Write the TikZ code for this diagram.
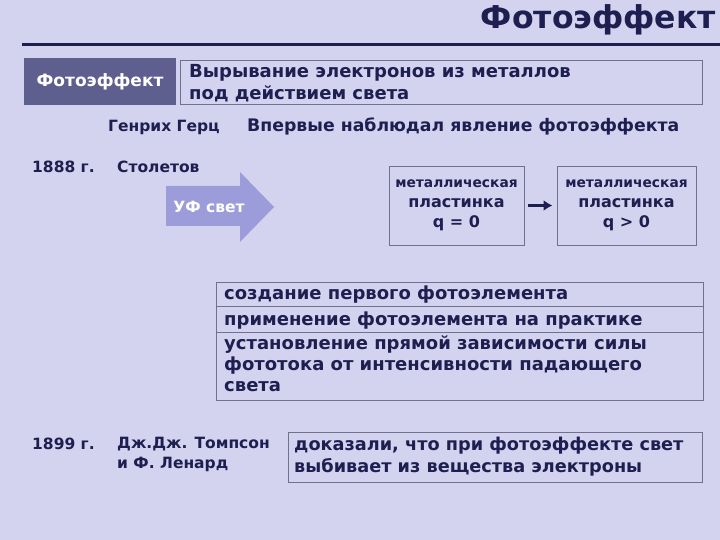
\documentclass[tikz,border=0pt]{standalone}
\usepackage{fontspec}
\usetikzlibrary{arrows.meta}
\setmainfont{DejaVu Sans}
\begin{document}
\begin{tikzpicture}[x=1pt,y=-1pt,
  txt/.style={text=tc,font=\bfseries\fontsize{15.5}{18}\selectfont,inner sep=0pt},
  frame/.style={draw=bc,line width=0.8pt}]
\definecolor{bg}{HTML}{D3D3EF}
\definecolor{tc}{HTML}{1E1E50}
\definecolor{bc}{HTML}{707090}
\definecolor{dk}{HTML}{5F5F8F}
\definecolor{ar}{HTML}{9C9CDA}
\fill[bg] (0,0) rectangle (720,540);
\useasboundingbox (0,0) rectangle (720,540);
\node[anchor=base east,text=tc,font=\bfseries\fontsize{31.5}{32}\selectfont,inner sep=0pt] (title) at (716,29) {Фотоэффект};
\coordinate (l1) at (22,45); \coordinate (l2) at (720,45);
\draw[tc,line width=3pt] (l1) -- (l2);
\node[fill=dk,minimum width=152,minimum height=47,inner sep=0pt,text=white,font=\bfseries\fontsize{17}{20}\selectfont] (fe) at (100,81.5) {Фотоэффект};
\node[frame,minimum width=522,minimum height=44,inner sep=0pt] (def) at (441,82) {};
\node[txt,anchor=west,align=left,font=\bfseries\fontsize{18}{21.5}\selectfont] (deft) at (189,83) {Вырывание электронов из металлов\\под действием света};
\node[txt,anchor=base west] (gerz) at (108,132) {Генрих Герц};
\node[txt,anchor=base west,font=\bfseries\fontsize{17.3}{20}\selectfont] (first) at (247,132) {Впервые наблюдал явление фотоэффекта};
\node[txt,anchor=base west] (y1) at (32,173) {1888 г.};
\node[txt,anchor=base west] (stol) at (117,173) {Столетов};
\fill[ar] (166,186) -- (240,186) -- (240,172) -- (274,207) -- (240,242) -- (240,226) -- (166,226) -- cycle;
\node[txt,text=white] (uf) at (209,207) {УФ свет};
\node[frame,minimum width=135,minimum height=79,inner sep=0pt,align=center,txt,draw=bc,font=\bfseries\fontsize{16}{20}\selectfont] (p1) at (456.5,205.5) {{\fontsize{13.8}{15}\selectfont металлическая}\\пластинка\\q = 0};
\node[frame,minimum width=139,minimum height=79,inner sep=0pt,align=center,txt,draw=bc,font=\bfseries\fontsize{16}{20}\selectfont] (p2) at (626.5,205.5) {{\fontsize{13.8}{15}\selectfont металлическая}\\пластинка\\q > 0};
\draw[tc,line width=3pt,-{Latex[length=9pt,width=11pt]}] ([xshift=4pt]p1.east) -- ([xshift=-4pt]p2.west);
\node[frame,minimum width=487,minimum height=24,inner sep=0pt] (r1) at (459.5,294) {};
\node[frame,minimum width=487,minimum height=26,inner sep=0pt] (r2) at (459.5,319) {};
\node[frame,minimum width=487,minimum height=68,inner sep=0pt] (r3) at (459.5,366) {};
\node[txt,anchor=west,font=\bfseries\fontsize{18}{20.5}\selectfont] (t1) at (224,295) {создание первого фотоэлемента};
\node[txt,anchor=west,font=\bfseries\fontsize{18}{20.5}\selectfont] (t2) at (224,321) {применение фотоэлемента на практике};
\node[txt,anchor=north west,align=left,font=\bfseries\fontsize{18}{21}\selectfont] (t3) at (224,336) {установление прямой зависимости силы\\фототока от интенсивности падающего\\света};
\node[txt,anchor=base west] (y2) at (32,449) {1899 г.};
\node[txt,anchor=north west,align=left,font=\bfseries\fontsize{15.5}{20}\selectfont] (tl) at (117,437) {Дж.Дж. Томпсон\\и Ф. Ленард};
\node[frame,minimum width=414,minimum height=50,inner sep=0pt] (dk2) at (495,457) {};
\node[txt,anchor=west,align=left,font=\bfseries\fontsize{17.7}{22}\selectfont] (dkt) at (294,457) {доказали, что при фотоэффекте свет\\выбивает из вещества электроны};
\end{tikzpicture}
\end{document}
